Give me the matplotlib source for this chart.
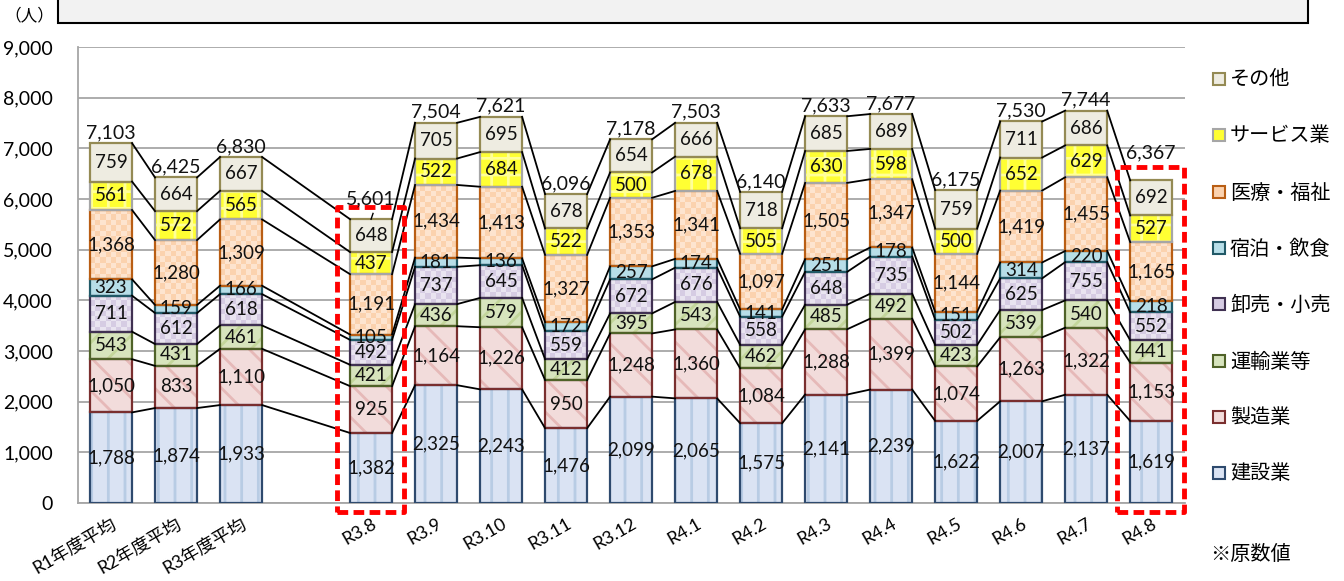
import matplotlib
matplotlib.use("Agg")
import matplotlib.pyplot as plt
from matplotlib.patches import Rectangle
from matplotlib.colors import to_rgb
from matplotlib.ticker import FuncFormatter
import numpy as np

# categories (one empty slot between the yearly averages and the months)
categories = ["R1年度平均", "R2年度平均", "R3年度平均",
              "R3.8", "R3.9", "R3.10", "R3.11", "R3.12", "R4.1", "R4.2",
              "R4.3", "R4.4", "R4.5", "R4.6", "R4.7", "R4.8"]

kensetsu = [1788, 1874, 1933, 1382, 2325, 2243, 1476, 2099, 2065, 1575, 2141, 2239, 1622, 2007, 2137, 1619]
seizo = [1050, 833, 1110, 925, 1164, 1226, 950, 1248, 1360, 1084, 1288, 1399, 1074, 1263, 1322, 1153]
unyu = [543, 431, 461, 421, 436, 579, 412, 395, 543, 462, 485, 492, 423, 539, 540, 441]
oroshi = [711, 612, 618, 492, 737, 645, 559, 672, 676, 558, 648, 735, 502, 625, 755, 552]
shukuhaku = [323, 159, 166, 105, 181, 136, 172, 257, 174, 141, 251, 178, 151, 314, 220, 218]
iryo = [1368, 1280, 1309, 1191, 1434, 1413, 1327, 1353, 1341, 1097, 1505, 1347, 1144, 1419, 1455, 1165]
service = [561, 572, 565, 437, 522, 684, 522, 500, 678, 505, 630, 598, 500, 652, 629, 527]
sonota = [759, 664, 667, 648, 705, 695, 678, 654, 666, 718, 685, 689, 759, 711, 686, 692]
totals = [7103, 6425, 6830, 5601, 7504, 7621, 6096, 7178, 7503, 6140, 7633, 7677, 6175, 7530, 7744, 6367]

# name, values, face, pattern colour, pattern, edge  ("check" = checkerboard)
series = [
    ("建設業", kensetsu, "#dae3f3", "#b8cce4", "|", "#2e4a6e"),
    ("製造業", seizo, "#f2dcdb", "#e6b9b8", "\\", "#7a2f2f"),
    ("運輸業等", unyu, "#d7e4bd", "#c3d69b", "/", "#4f6228"),
    ("卸売・小売", oroshi, "#e9e4f0", "#d6cce3", "check", "#403152"),
    ("宿泊・飲食", shukuhaku, "#b7dee8", "#b7dee8", None, "#215967"),
    ("医療・福祉", iryo, "#fde4cf", "#fbd2ae", "check", "#b95e14"),
    ("サービス業", service, "#ffff33", "#ffff99", "+", "#a6a6a6"),
    ("その他", sonota, "#eeece1", "#eeece1", None, "#948a54"),
]

plt.rcParams["font.family"] = ["Lato", "Noto Sans CJK JP"]
plt.rcParams["hatch.linewidth"] = 2.0

W, H = 1344, 581
fig = plt.figure(figsize=(W / 100, H / 100), dpi=100)
ax = fig.add_axes([78 / W, 78 / H, 1107 / W, 456 / H])

x = np.array(list(range(3)) + list(range(4, 17)), dtype=float)
w = 0.646
n = len(x)
px_per_unit = 456 / 9000  # vertical pixels per person
cell = 5.5                # checker cell, pixels

bottom = np.zeros(n)
for name, vals, face, pc, pattern, edge in series:
    vals = np.array(vals, dtype=float)
    hatch = pattern if pattern != "check" else None
    bars = ax.bar(x, vals, w, bottom=bottom, color=face, edgecolor=pc,
                  hatch=hatch, linewidth=0, zorder=2)
    if pattern == "check":
        c1, c2 = np.array(to_rgb(face)), np.array(to_rgb(pc))
        for bar, xi, b, v in zip(bars, x, bottom, vals):
            cols = max(1, int(round(42 / cell)))
            rows = max(1, int(round(v * px_per_unit / cell)))
            grid = (np.add.outer(np.arange(rows), np.arange(cols)) % 2)[..., None]
            img = c1 * (1 - grid) + c2 * grid
            im = ax.imshow(img, extent=(xi - w / 2, xi + w / 2, b, b + v),
                           aspect="auto", interpolation="nearest", zorder=2.5)
            im.set_clip_path(bar)
    ax.bar(x, vals, w, bottom=bottom, facecolor="none", edgecolor=edge,
           linewidth=1.6, zorder=3)
    for xi, b, v in zip(x, bottom, vals):
        ax.text(xi, b + v / 2, f"{int(v):,}", ha="center", va="center",
                fontsize=13.5, color="#111111", zorder=6)
    tops = bottom + vals
    for i in range(n - 1):
        ax.plot([x[i] + w / 2, x[i + 1] - w / 2], [tops[i], tops[i + 1]],
                color="black", lw=1.3, zorder=4)
    bottom = tops

# totals; the two highlighted months sit a little higher, above the red box
lift = {3: 190, 15: 330}
for i, (xi, top, t) in enumerate(zip(x, bottom, totals)):
    ax.text(xi, top + 40 + lift.get(i, 0), f"{t:,}", ha="center", va="bottom",
            fontsize=14, color="#111111", zorder=6)
    if i == 3:
        ax.plot([xi, xi + 0.03], [top, top + lift[i] * 0.6], color="black", lw=1.0, zorder=6)

# red dashed highlight boxes
for slot, top in [(4, 5840), (16, 6630)]:
    ax.add_patch(Rectangle((slot - 0.52, -180), 1.02, top + 180, fill=False,
                           edgecolor="#ff0000", lw=3.5, linestyle=(0, (2.2, 1.1)),
                           joinstyle="round", clip_on=False, zorder=5))

ax.set_xlim(-0.508, 16.52)
ax.set_ylim(0, 9000)
ax.set_yticks(range(0, 9001, 1000))
ax.yaxis.set_major_formatter(FuncFormatter(lambda v, p: f"{int(v):,}"))
ax.set_xticks(x)
ax.set_xticklabels(categories, rotation=30, ha="right", va="top",
                   rotation_mode="anchor")
ax.tick_params(axis="both", length=0)
ax.tick_params(axis="x", pad=9, labelsize=13)
ax.tick_params(axis="y", pad=18, labelsize=14)
ax.yaxis.grid(True, color="#a6a6a6", lw=1.3)
ax.set_axisbelow(True)
for s in ["top", "right"]:
    ax.spines[s].set_visible(False)
for s in ["left", "bottom"]:
    ax.spines[s].set_color("#a6a6a6")
    ax.spines[s].set_linewidth(1.3)

# title box and unit
fig.add_artist(Rectangle((58 / W, 1 - 23 / H), 1250 / W, 0.1, transform=fig.transFigure,
                         facecolor="#f2f2f2", edgecolor="black", lw=1.5))
fig.text(4 / W, 1 - 15 / H, "（人）", va="center", ha="left", fontsize=12)

# legend, drawn by hand top to bottom
leg_y = [79, 135, 192, 248, 304, 361, 417, 473]
for (name, vals, face, pc, pattern, edge), py in zip(series[::-1], leg_y):
    fill = pc if pattern == "check" else face
    fig.add_artist(Rectangle((1213 / W, 1 - (py + 6) / H), 12 / W, 12 / H,
                             transform=fig.transFigure, facecolor=fill,
                             edgecolor=edge, lw=1.5))
    fig.text(1230 / W, 1 - py / H, name, va="center", ha="left", fontsize=14.5)
fig.text(1210 / W, 1 - 553 / H, "※原数値", va="center", ha="left", fontsize=14.5)

fig.savefig("out.png", dpi=100)
